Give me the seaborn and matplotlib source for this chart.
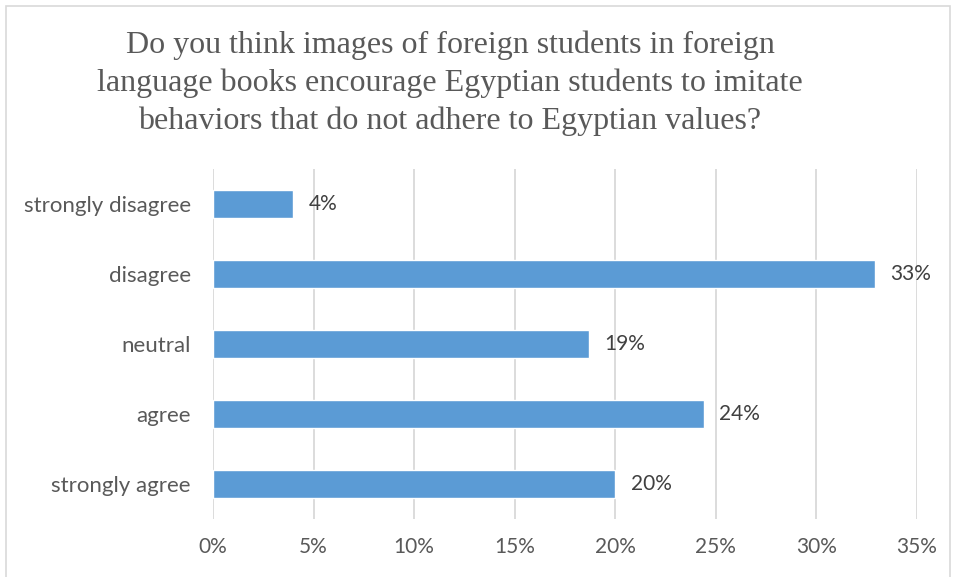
import pandas as pd
import seaborn as sns
import matplotlib.pyplot as plt
from matplotlib.patches import Rectangle
from matplotlib.ticker import PercentFormatter

categories = ["strongly disagree", "disagree", "neutral", "agree", "strongly agree"]
shares = [0.04, 0.329, 0.187, 0.244, 0.20]
labels = ["4%", "33%", "19%", "24%", "20%"]

title = ("Do you think images of foreign students in foreign\n"
         "language books encourage Egyptian students to imitate\n"
         "behaviors that do not adhere to Egyptian values?")

df = pd.DataFrame({"answer": categories, "share": shares})

sns.set_style("white")
plt.rcParams['font.family'] = ['Lato', 'DejaVu Sans']

fig = plt.figure(figsize=(9.56, 5.77), dpi=100)
ax = fig.add_axes([0.2228, 0.1005, 0.7364, 0.6066])

sns.barplot(data=df, x="share", y="answer", order=categories, color="#5B9BD5",
            saturation=1, width=0.4, ax=ax)

ax.bar_label(ax.containers[0], labels=labels, padding=11, fontsize=15, color="#404040")

ax.set_xlim(0, 0.35)
ax.set_xticks([i * 0.05 for i in range(8)])
ax.xaxis.set_major_formatter(PercentFormatter(1.0, decimals=0))
ax.grid(axis="x", color="#D9D9D9", linewidth=1.3)
ax.set_axisbelow(True)
for s in ax.spines.values():
    s.set_visible(False)
ax.set_xlabel("")
ax.set_ylabel("")
ax.tick_params(axis="x", length=0, pad=13, labelsize=15, labelcolor="#595959")
ax.tick_params(axis="y", length=0, pad=16, labelsize=16, labelcolor="#595959")

fig.text(450 / 956, 1 - 83 / 577, title, ha="center", va="center",
         family="Liberation Serif", fontsize=23, color="#595959", linespacing=1.38)

fig.patches.append(Rectangle((6 / 956, -0.01), 944 / 956, 1 - 6 / 577 + 0.01,
                             transform=fig.transFigure, fill=False,
                             edgecolor="#D9D9D9", linewidth=1.2))

fig.savefig("out.png", dpi=100)
